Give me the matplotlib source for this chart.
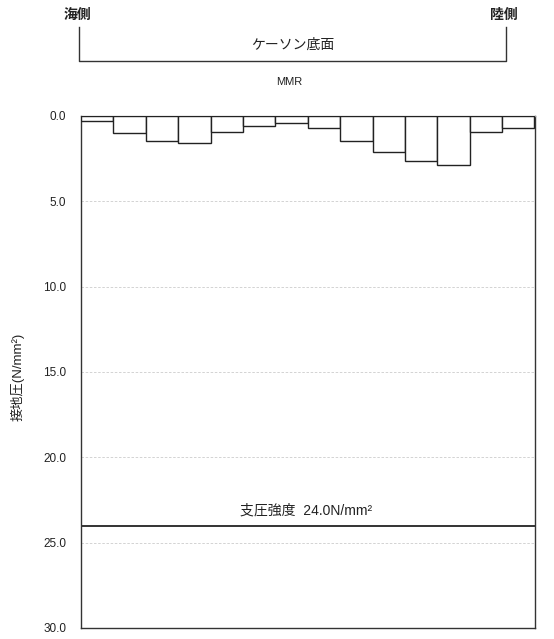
import matplotlib
matplotlib.use("Agg")
import matplotlib.pyplot as plt
from matplotlib.lines import Line2D

plt.rcParams['font.family'] = ['Liberation Sans', 'Noto Sans CJK JP', 'DejaVu Sans']

pressures = [0.30, 1.00, 1.45, 1.58, 0.96, 0.59, 0.41, 0.72, 1.45, 2.13, 2.62, 2.87, 0.94, 0.70]
yticks = [0.0, 5.0, 10.0, 15.0, 20.0, 25.0, 30.0]
strength = 24.0

fig = plt.figure(figsize=(5.54, 6.39), dpi=100)
ax = fig.add_axes([81/554, 1-628/639, (534.5-81)/554, (628-116)/639])

x = list(range(len(pressures)))
ax.bar(x, pressures, width=1.0, bottom=0, color='white', edgecolor='#222222', linewidth=1.0, zorder=3)
ax.set_xlim(-0.5, len(pressures)-0.5)
ax.set_ylim(30, 0)
ax.set_yticks(yticks)
ax.set_yticklabels([f"{v:.1f}" for v in yticks], fontsize=8.5, color='#222222')
ax.set_xticks([])
ax.tick_params(axis='y', length=0, pad=10.5)
for v in yticks[1:-1]:
    ax.axhline(v, color='#cccccc', linestyle=(0, (3, 2)), linewidth=0.6, zorder=1)
ax.axhline(strength, color='#111111', linewidth=1.2, zorder=2)
ax.text((len(pressures)-1)/2 - 0.05, strength - 0.5, '支圧強度  24.0N/mm²', ha='center', va='bottom', fontsize=10, color='#222222')
for s in ['left', 'right', 'bottom']:
    ax.spines[s].set_color('#333333')
    ax.spines[s].set_linewidth(1.0)
ax.spines['top'].set_color('#999999')
ax.spines['top'].set_linewidth(1.0)
ax.set_ylabel('接地圧(N/mm²)', fontsize=9.5, color='#222222')
ax.yaxis.set_label_coords(-0.125, 0.49)

# top bracket annotation
def fx(px):
    return px/554
def fy(py):
    return 1-py/639
lw = 1.0
fig.add_artist(Line2D([fx(79), fx(79), fx(506), fx(506)], [fy(27), fy(61), fy(61), fy(27)], color='#333333', linewidth=lw))
fig.text(fx(64), fy(15), '海側', ha='left', va='center', fontsize=10, color='#222222', fontweight='bold')
fig.text(fx(518), fy(15), '陸側', ha='right', va='center', fontsize=10, color='#222222', fontweight='bold')
fig.text(fx(293), fy(45), 'ケーソン底面', ha='center', va='center', fontsize=10, color='#222222')
fig.text(fx(289), fy(82), 'MMR', ha='center', va='center', fontsize=8, color='#222222')

fig.savefig('out.png', dpi=100)
